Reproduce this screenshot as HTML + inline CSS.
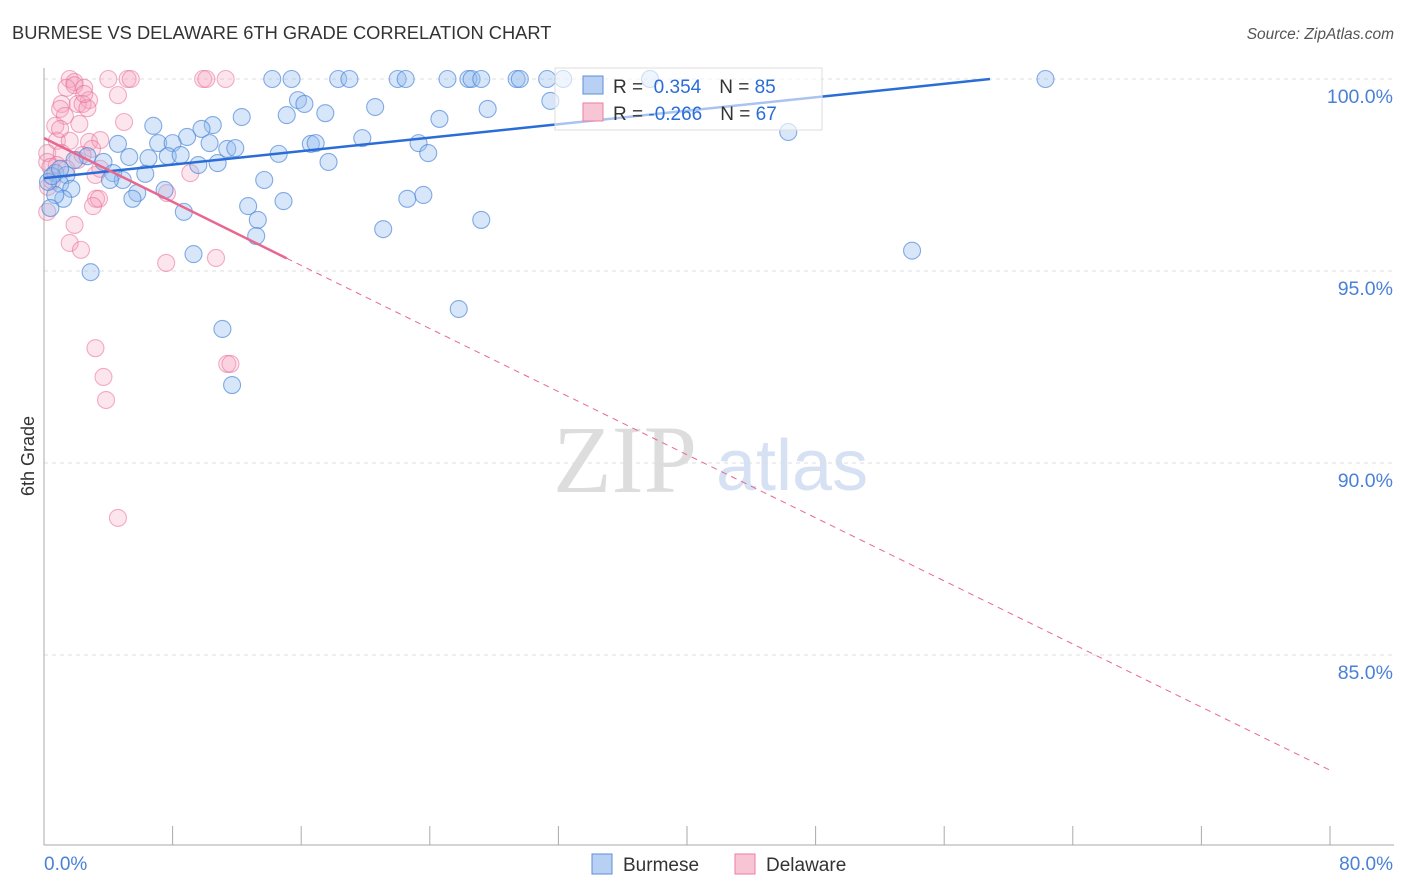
<!DOCTYPE html>
<html><head><meta charset="utf-8"><style>
body{margin:0;background:#fff;font-family:"Liberation Sans",sans-serif;}
svg{display:block}
</style></head><body>
<svg id="chart" width="1406" height="892">
<text x="12" y="39" font-size="18.3" fill="#333">BURMESE VS DELAWARE 6TH GRADE CORRELATION CHART</text>
<text x="1394" y="39" font-size="15.5" fill="#555" font-style="italic" text-anchor="end">Source: ZipAtlas.com</text>
<text x="34" y="456" font-size="18" fill="#333" transform="rotate(-90 34 456)" text-anchor="middle">6th Grade</text>
<g>
<text x="553" y="492" font-size="96" font-family="Liberation Serif,serif" fill="#ddd">ZIP</text>
<text x="716" y="490" font-size="72" fill="#d6e2f3">atlas</text>
</g>
<g id="grid"></g><g id="axes"></g><g id="pts"></g><g id="trend"></g>
<g>
<rect x="555" y="68" width="267" height="62" fill="#fff" fill-opacity="0.6" stroke="#ddd"/>
<rect x="583" y="76" width="20" height="18" fill="#b8d0f3" stroke="#5b8fd6"/>
<rect x="583" y="103" width="20" height="18" fill="#f8c5d5" stroke="#e87fa0"/>
<text x="613" y="93" font-size="19" fill="#333">R = <tspan fill="#2a6dd6">&#160;0.354</tspan><tspan dx="18">N = </tspan><tspan fill="#2a6dd6">85</tspan></text>
<text x="613" y="120" font-size="19" fill="#333">R = <tspan fill="#2a6dd6">-0.266</tspan><tspan dx="18">N = </tspan><tspan fill="#2a6dd6">67</tspan></text>
</g>
<g>
<rect x="592" y="854" width="20" height="20" fill="#b8d0f3" stroke="#5b8fd6"/>
<text x="623" y="871" font-size="19" fill="#333">Burmese</text>
<rect x="735" y="854" width="20" height="20" fill="#f8c5d5" stroke="#e87fa0"/>
<text x="766" y="871" font-size="19" fill="#333">Delaware</text>
</g>
</svg>
<script>
const yTicks=[100,95,90,85];
const xTickLabels=["0.0%","80.0%"];
const burmeseX=[14.2,15.4,18.3,19,22,22.5,25.1,26.4,26.6,27.2,29.4,29.6,31.3,32.3,37.7,62.3,15.8,16.2,20.6,27.6,31.5,12.3,15.1,17.5,24.6,10.5,6.8,9.8,46.3,8.9,7.1,8,10.3,11.4,11.9,16.6,16.9,19.8,23.3,23.9,4.6,2.7,5.3,6.5,7.7,8.5,10.8,14.6,17.7,1.9,3.7,9.6,0.7,1.4,4.3,4.9,6.3,4.1,13.7,1,1.7,7.5,14.9,5.8,5.5,1.2,0.7,0.4,12.7,22.6,23.6,8.7,13.3,13.2,21.1,27.2,54,9.3,2.9,25.8,11.1,11.7,0.25,0.5,1];
const burmeseY=[100,100,100,100,100,100,100,100,100,100,100,100,100,100,100,100,99.45,99.35,99.27,99.22,99.43,99.01,99.06,99.11,98.96,98.8,98.78,98.7,98.62,98.49,98.33,98.33,98.33,98.18,98.2,98.31,98.33,98.46,98.33,98.07,98.31,97.99,97.97,97.94,97.99,98.02,97.81,98.05,97.84,97.89,97.84,97.76,97.55,97.5,97.55,97.37,97.53,97.37,97.37,97.27,97.14,97.11,96.82,97.03,96.88,96.88,96.98,96.64,96.69,96.88,96.98,96.54,96.33,95.91,96.09,96.33,95.53,95.44,94.97,94.01,93.49,92.03,97.32,97.47,97.66];
const delawareX=[1.6,1.9,4,5.2,5.4,9.9,10.1,11.3,1.4,1.9,2.5,2.8,4.6,1.1,1,2.1,2.4,2.7,1.3,0.7,4.98,0.8,1.6,2.8,3.5,0.2,1.1,2.99,0.2,0.8,2.1,9.1,0.4,3.2,0.25,7.65,3.24,3.42,3.05,0.2,1.9,1.6,2.3,7.6,10.7,3.2,3.7,3.86,11.4,11.6,4.6,2.4,1.4,3.5,0.5,1,2.2,2.5];
const delawareY=[100,99.92,100,100,100,100,100,100,99.77,99.84,99.77,99.45,99.58,99.35,99.22,99.35,99.35,99.24,99.04,98.78,98.88,98.39,98.39,98.36,98.41,98.07,98.07,98.18,97.84,97.76,97.89,97.55,97.71,97.5,97.19,97.03,96.88,96.88,96.69,96.54,96.2,95.73,95.55,95.21,95.34,92.99,92.24,91.64,92.58,92.58,88.57,98.02,97.66,97.66,97.35,98.7,98.83,99.61];
const burmeseTrend=[[0,97.42],[58.85,100]];
const delawareTrend=[[0,98.46],[15.1,95.33],[80,82.0]];
const NS="http://www.w3.org/2000/svg";
const X=v=>44+v*16.075, Y=v=>79+(100-v)*38.4;
function mk(t,a,parent){const e=document.createElementNS(NS,t);for(const k in a)e.setAttribute(k,a[k]);document.getElementById(parent).appendChild(e);return e;}
yTicks.forEach((t,i)=>{
 const l=mk("line",{x1:44,x2:1394,y1:Y(t),y2:Y(t),stroke:"#ddd","stroke-dasharray":"4,4"},"grid");
 
 
 const tx=mk("text",{x:1393,y:Y(t)+24,"text-anchor":"end","font-size":19.5,fill:"#4a80d6"},"grid");
 tx.textContent=t.toFixed(1)+"%";
 
 
});
const ax=mk("line",{x1:44,x2:44,y1:68,y2:845,stroke:"#aaa"},"axes");


const bx=mk("line",{x1:44,x2:1394,y1:845,y2:845,stroke:"#aaa"},"axes");


for(let i=0;i<=10;i++){
 const t=mk("line",{x1:X(i*8),x2:X(i*8),y1:826,y2:845,stroke:"#aaa"},"axes");
 
 
}
[[0,"start"],[80,"end"]].forEach((p,i)=>{
 const t=mk("text",{x:X(p[0])+(i?63:0),y:870,"text-anchor":p[1],"font-size":19,fill:"#4a80d6"},"axes");
 t.textContent=xTickLabels[i];
 
 
});
delawareX.forEach((x,i)=>{
 const c=mk("circle",{cx:X(x),cy:Y(delawareY[i]),r:8.5,fill:"rgba(245,160,190,0.28)",stroke:"rgba(232,110,150,0.55)","stroke-width":1.1},"pts");
 
 
});
burmeseX.forEach((x,i)=>{
 const c=mk("circle",{cx:X(x),cy:Y(burmeseY[i]),r:8.5,fill:"rgba(150,190,240,0.38)",stroke:"rgba(70,130,215,0.65)","stroke-width":1.1},"pts");
 
 
});
const bl=mk("line",{x1:X(burmeseTrend[0][0]),y1:Y(burmeseTrend[0][1]),x2:X(burmeseTrend[1][0]),y2:Y(burmeseTrend[1][1]),stroke:"#2a6dd6","stroke-width":2.5},"trend");


const pl=mk("line",{x1:X(delawareTrend[0][0]),y1:Y(delawareTrend[0][1]),x2:X(delawareTrend[1][0]),y2:Y(delawareTrend[1][1]),stroke:"#e8678f","stroke-width":2.5},"trend");


const pd=mk("line",{x1:X(delawareTrend[1][0]),y1:Y(delawareTrend[1][1]),x2:X(delawareTrend[2][0]),y2:Y(delawareTrend[2][1]),stroke:"#e8678f","stroke-width":1,"stroke-dasharray":"6,5"},"trend");


</script>
</body></html>
